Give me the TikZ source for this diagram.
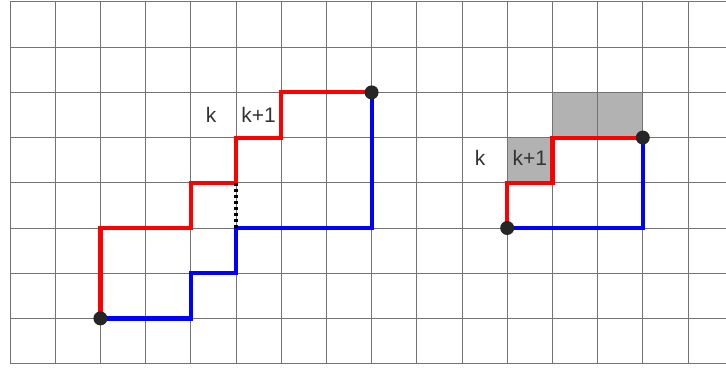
\documentclass[tikz,border=0pt]{standalone}
\usepackage{fontspec}
\setmainfont{Liberation Sans}
\begin{document}
\begin{tikzpicture}[x=1pt,y=-1pt,
  gridline/.style={draw=black!55, line width=1pt},
  redpath/.style={draw=red, line width=4.2pt, line join=miter},
  bluepath/.style={draw=blue, line width=4.2pt, line join=miter},
  gap/.style={draw=black, line width=3.5pt, dash pattern=on 3pt off 3pt},
  enddot/.style={circle, fill=black!85, inner sep=0pt, minimum size=14pt},
  lbl/.style={text=black!80, font=\fontsize{21}{23}\selectfont, inner sep=0pt},
  shade/.style={fill=black!30}]
\useasboundingbox (0,0) rectangle (726,369);
% lattice point (i,j): column i from the left, row j from the bottom
\def\gx#1{10+45.2*#1}
\def\gy#1{363.6-45.2*#1}
% shaded cells of the right example
\fill[shade] ({\gx{11}},{\gy{5}}) rectangle ({\gx{12}},{\gy{4}});
\fill[shade] ({\gx{12}},{\gy{6}}) rectangle ({\gx{14}},{\gy{5}});
% grid
\foreach \i in {0,...,15} \draw[gridline] ({\gx{\i}},{\gy{0}}) -- ({\gx{\i}},{\gy{8}});
\foreach \j in {0,...,8} \draw[gridline] ({\gx{0}},{\gy{\j}}) -- (726,{\gy{\j}});
% left example
\coordinate (A) at ({\gx{2}},{\gy{1}});
\coordinate (B) at ({\gx{8}},{\gy{6}});
\coordinate (P) at ({\gx{5}},{\gy{4}});
\coordinate (Q) at ({\gx{5}},{\gy{3}});
\draw[redpath] (A) -- ({\gx{2}},{\gy{3}}) -- ({\gx{4}},{\gy{3}}) -- ({\gx{4}},{\gy{4}})
  -- (P) -- ({\gx{5}},{\gy{5}}) -- ({\gx{6}},{\gy{5}}) -- ({\gx{6}},{\gy{6}}) -- (B);
\draw[bluepath] (A) -- ({\gx{4}},{\gy{1}}) -- ({\gx{4}},{\gy{2}}) -- ({\gx{5}},{\gy{2}})
  -- (Q) -- ({\gx{8}},{\gy{3}}) -- (B);
\draw[gap] (P) -- (Q);
\node[enddot] (a) at (A) {};
\node[enddot] (b) at (B) {};
\node[lbl] (k1) at ({\gx{4.45}},{\gy{5.5}}) {k};
\node[lbl] (k1p) at ({\gx{5.5}},{\gy{5.5}}) {k+1};
% right example
\coordinate (C) at ({\gx{11}},{\gy{3}});
\coordinate (D) at ({\gx{14}},{\gy{5}});
\draw[redpath] (C) -- ({\gx{11}},{\gy{4}}) -- ({\gx{12}},{\gy{4}}) -- ({\gx{12}},{\gy{5}}) -- (D);
\draw[bluepath] (C) -- ({\gx{14}},{\gy{3}}) -- (D);
\node[enddot] (c) at (C) {};
\node[enddot] (d) at (D) {};
\node[lbl] (k2) at ({\gx{10.4}},{\gy{4.55}}) {k};
\node[lbl] (k2p) at ({\gx{11.5}},{\gy{4.55}}) {k+1};
\end{tikzpicture}
\end{document}
